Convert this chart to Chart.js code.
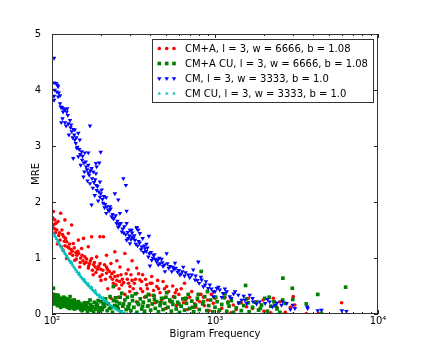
<!DOCTYPE html>
<html>
<head>
<meta charset="utf-8">
<script src="https://cdn.jsdelivr.net/npm/chart.js@4/dist/chart.umd.min.js"></script>
<style>
html,body{margin:0;padding:0;background:#fff;}
canvas{display:block;}
</style>
</head>
<body>
<canvas id="c" width="421" height="350"></canvas>
<script>
// ---- Data (bigram frequency, MRE) ----
const seriesLabels = [
  'CM+A, l = 3, w = 6666, b = 1.08',
  'CM+A CU, l = 3, w = 6666, b = 1.08',
  'CM, l = 3, w = 3333, b = 1.0',
  'CM CU, l = 3, w = 3333, b = 1.0'
];
const xTickValues = [100, 1000, 10000];
const xTickLabels = ['10\u00B2', '10\u00B3', '10\u2074'];
const xMinorTicks = [200,300,400,500,600,700,800,900,2000,3000,4000,5000,6000,7000,8000,9000];
const yTickValues = [0, 1, 2, 3, 4, 5];
const yTickLabels = ['0', '1', '2', '3', '4', '5'];

const cmA = [
 [102,1.83],[113,1.80],[104,1.68],[109,1.65],[120,1.68],[101,1.72],[103,1.60],[107,1.50],[115,1.50],[126,1.44],
 [132,1.59],[105,1.45],[112,1.32],[110,1.40],[118,1.38],[123,1.29],[135,1.26],[145,1.32],[156,1.35],[175,1.38],
 [197,1.38],[207,1.38],[117,1.14],[129,1.08],[142,1.05],[152,1.17],[167,1.20],[123,0.99],[138,0.96],[159,1.02],
 [175,0.99],[188,1.02],[216,1.05],[243,1.11],[280,1.08],[148,0.84],[167,0.82],[184,0.84],[197,0.90],[216,0.84],
 [179,0.70],[197,0.67],[216,0.73],[243,0.67],[261,0.84],[293,0.79],[331,0.82],[409,0.67],[346,0.61],[238,0.55],
 [268,0.52],[301,0.49],[381,0.52],[439,0.49],[505,0.49],[581,0.43],[331,0.37],[399,0.34],[482,0.28],[555,0.31],
 [670,0.28],[807,0.22],[977,0.19],[1295,0.16],[1564,0.13],[1974,0.25],[2281,0.28],[3020,0.31],[3090,0.16],[5980,0.20],
 [3630,0.01],[108,1.25],[114,1.20],[120,1.22],[127,1.18],[133,1.12],[140,1.10],[146,1.08],[150,1.00],[155,0.95],
 [162,0.92],[170,0.90],[180,0.88],[190,0.80],[205,0.78],[225,0.76],[235,0.62],[250,0.60],[260,0.58],[275,0.56],
 [290,0.62],[310,0.60],[320,0.55],[350,0.45],[360,0.40],[300,0.40],[280,0.35],[255,0.30],[230,0.28],[370,0.30],
 [420,0.42],[460,0.38],[520,0.40],[600,0.35],[640,0.20],[700,0.30],[750,0.18],[860,0.15],[900,0.25],[1100,0.10],
 [1200,0.22],[1350,0.08],[1450,0.20],[1700,0.10],[2000,0.05],[2400,0.12],[2700,0.03],[650,0.55],[550,0.50],[480,0.58],
 [760,0.12],[430,0.20],[390,0.15],[330,0.22],[500,0.10],[580,0.15],[680,0.08],[920,0.06],[1050,0.04],[1250,0.02],
 [820,0.35],[1000,0.28],[400,0.55],[450,0.45],[360,0.70],[310,0.95],[250,0.95],[230,0.90],[200,0.60],[220,0.45],
 [265,0.70],[2200,0.02],[4300,0.01],[2500,0.22],[2900,0.12],
 [101,1.55],[104,1.52],[106,1.62],[111,1.45],[116,1.42],[119,1.30],[121,1.35],[124,1.20],[128,1.25],[131,1.15],
 [134,1.05],[137,1.18],[141,0.98],[144,1.12],[149,0.92],[153,1.05],[158,0.90],[163,0.98],[168,0.86],[172,0.95],
 [177,0.78],[182,0.92],[186,0.74],[193,0.85],[199,0.80],[203,0.70],[210,0.88],[213,0.62],[219,0.80],[228,0.66],
 [233,0.72],[240,0.75],[247,0.52],[253,0.68],[258,0.45],[270,0.62],[285,0.72],[295,0.55],[305,0.70],[315,0.45],
 [325,0.62],[340,0.72],[355,0.58],[375,0.62],[385,0.45],[410,0.55],[425,0.32],[445,0.60],[470,0.25],[490,0.45],
 [530,0.22],[570,0.38],[620,0.45],[660,0.25],[720,0.40],[780,0.25],[850,0.30],[950,0.35],[1150,0.30],[1600,0.28],
 [1800,0.22]
];

const cmACU = [
 [102,0.46],[101,0.31],[107,0.34],[104,0.25],[112,0.28],[117,0.22],[129,0.31],[135,0.22],[123,0.16],[148,0.19],
 [156,0.13],[171,0.25],[188,0.13],[206,0.19],[238,0.49],[227,0.31],[249,0.22],[268,0.37],[280,0.25],[293,0.13],
 [100,0.28],[103,0.22],[105,0.30],[106,0.20],[108,0.26],[110,0.18],[110,0.30],[113,0.22],[114,0.15],[115,0.27],
 [118,0.14],[119,0.25],[120,0.19],[121,0.28],[124,0.12],[125,0.22],[127,0.18],[128,0.10],[130,0.16],[131,0.24],
 [133,0.13],[136,0.18],[138,0.09],[140,0.14],[142,0.21],[144,0.11],[146,0.15],[150,0.08],[152,0.17],[154,0.12],
 [158,0.20],[160,0.09],[163,0.14],[165,0.05],[168,0.11],[173,0.17],[175,0.07],[178,0.13],[182,0.21],[185,0.09],
 [190,0.16],[193,0.05],[196,0.11],[200,0.22],[203,0.08],[210,0.14],[213,0.27],[218,0.06],[222,0.18],[230,0.11],
 [235,0.03],[242,0.15],[245,0.29],[255,0.09],[260,0.19],[265,0.04],[272,0.14],[285,0.08],[290,0.30],[298,0.18],
 [305,0.06],[312,0.24],[318,0.12],[325,0.36],[332,0.03],[340,0.17],[348,0.27],[355,0.09],[363,0.21],[370,0.05],
 [378,0.31],[386,0.14],[395,0.24],[403,0.07],[412,0.18],[420,0.33],[430,0.10],[440,0.22],[450,0.04],[460,0.15],
 [470,0.28],[480,0.08],[492,0.19],[505,0.38],[515,0.12],[528,0.25],[540,0.05],[552,0.17],[565,0.30],[578,0.09],
 [590,0.21],[605,0.03],[620,0.14],[635,0.27],[650,0.07],[668,0.19],[685,0.35],[700,0.10],[720,0.23],[740,0.04],
 [760,0.16],[780,0.28],[800,0.08],[823,0.76],[840,0.18],[865,0.31],[890,0.06],[915,0.15],[940,0.25],[970,0.04],
 [1000,0.12],[1030,0.22],[1065,0.07],[1100,0.17],[1140,0.29],[1180,0.05],[1220,0.14],[1260,0.24],[1300,0.03],[1350,0.11],
 [1400,0.20],[1450,0.06],[1540,0.51],[1500,0.15],[1560,0.27],[1620,0.04],[1700,0.12],[1780,0.21],[1850,0.07],[1930,0.16],
 [2020,0.28],[2100,0.05],[2200,0.14],[2300,0.22],[2400,0.09],[2500,0.03],[2610,0.64],[2700,0.19],[2980,0.46],[3000,0.26],
 [3630,0.18],[4270,0.35],[4500,0.01],[6330,0.48],[2600,0.25],[1150,0.36],[900,0.40],
 [101,0.22],[102,0.35],[104,0.18],[106,0.27],[108,0.15],[109,0.33],[111,0.24],[113,0.12],[116,0.20],[118,0.30],
 [122,0.23],[126,0.26],[129,0.14],[132,0.20],[135,0.10],[137,0.25],[141,0.17],[145,0.22],[149,0.12],[153,0.06],
 [157,0.15],[161,0.18],[166,0.20],[170,0.08],[176,0.12],[180,0.04],[187,0.18],[192,0.24],[198,0.06],[205,0.12],
 [215,0.20],[225,0.10],[238,0.24],[252,0.14],[262,0.30],[275,0.18],[295,0.10],[310,0.32],[335,0.20],[360,0.14],
 [390,0.35],[425,0.26],[465,0.20],[500,0.30],[545,0.22],[600,0.18],[660,0.28],[730,0.12],[790,0.35],[850,0.22],
 [1010,0.30],[1200,0.20],[1600,0.20],[1900,0.10],[2150,0.30],[2350,0.15]
];

const cm = [
 [103,4.57],[103,4.13],[106,4.12],[108,4.09],[109,4.06],[104,4.00],[107,3.97],[103,3.89],[109,3.88],[103,3.82],
 [112,3.76],[115,3.69],[117,3.67],[120,3.65],[124,3.67],[117,3.61],[123,3.61],[116,3.49],[114,3.42],[120,3.42],
 [129,3.46],[122,3.36],[171,3.36],[130,3.33],[135,3.30],[138,3.29],[132,3.26],[145,3.23],[127,3.20],[134,3.15],
 [148,3.11],[138,3.11],[142,2.96],[147,2.94],[152,2.90],[159,2.88],[167,2.88],[199,2.89],[135,2.78],[145,2.81],
 [154,2.82],[150,2.66],[162,2.63],[167,2.66],[175,2.60],[186,2.69],[195,2.70],[158,2.54],[167,2.52],[179,2.54],
 [186,2.51],[156,2.45],[171,2.33],[165,2.38],[188,2.21],[178,2.25],[197,2.09],[183,2.12],[206,1.98],[192,2.02],
 [221,1.86],[210,1.90],[232,1.74],[215,1.80],[249,1.62],[238,1.70],[268,1.47],[255,1.55],[287,1.32],[301,1.26],
 [274,2.42],[284,2.30],[188,2.63],[197,2.36],[215,2.08],[175,1.95],[227,1.92],[255,2.04],[243,2.15],[261,1.80],
 [287,1.62],[308,1.50],[331,1.53],[346,1.44],[287,1.84],[331,1.55],[338,1.50],[301,1.50],[308,1.38],[293,1.35],
 [323,1.32],[393,1.39],[355,1.20],[372,1.17],[390,1.02],[409,0.96],[439,0.93],[505,1.08],[470,0.98],[399,0.86],
 [449,0.88],[493,0.76],[543,0.76],[568,0.91],[639,0.84],[609,0.70],[686,0.70],[735,0.79],[755,0.61],[828,0.61],
 [848,0.49],[908,0.46],[1000,0.40],[260,1.60],[275,1.45],[310,1.45],[320,1.40],[340,1.30],[360,1.35],[380,1.25],
 [365,1.10],[420,1.05],[430,0.98],[460,0.90],[480,0.85],[520,0.82],[560,0.80],[590,0.75],[620,0.72],[650,0.68],
 [700,0.65],[780,0.60],[800,0.55],[870,0.52],[950,0.45],[790,0.93],[977,0.40],[1026,0.46],[1070,0.43],[1120,0.37],
 [1179,0.40],[1328,0.40],[1389,0.34],[1455,0.25],[1523,0.25],[1634,0.34],[1713,0.22],[1881,0.22],[2030,0.19],[2166,0.22],
 [2338,0.16],[2556,0.16],[2753,0.19],[2995,0.16],[977,0.31],[1233,0.31],[1564,0.19],[1100,0.30],[1260,0.28],[1400,0.20],
 [1800,0.18],[2250,0.13],[2400,0.20],[3090,0.10],[3680,0.13],[4270,0.06],[4500,0.07],[6000,0.06],[6400,0.05],[2900,0.08],
 [3700,0.10],
 [140,3.05],[143,2.98],[149,2.85],[153,2.75],[157,2.70],[161,2.72],[164,2.58],[169,2.48],[172,2.56],[176,2.42],
 [181,2.35],[184,2.40],[187,2.30],[190,2.28],[194,2.18],[199,2.15],[202,2.22],[204,2.05],[208,2.10],[212,1.96],
 [218,1.92],[224,1.84],[229,1.88],[235,1.78],[241,1.72],[246,1.76],[252,1.66],[258,1.58],[264,1.62],[271,1.52],
 [278,1.56],[283,1.42],[292,1.46],[298,1.40],[305,1.33],[315,1.35],[327,1.25],[335,1.22],[345,1.27],[352,1.15],
 [368,1.22],[378,1.12],[385,1.18],[395,1.08],[405,1.10],[415,1.00],[425,1.06],[445,0.97],[455,1.00],[475,0.92],
 [490,0.88],[510,0.90],[530,0.85],[550,0.84],[575,0.82],[600,0.78],[630,0.76],[660,0.74],[720,0.70],[760,0.68],
 [820,0.66],[880,0.58],[930,0.52],[1050,0.48],[1150,0.45],[1300,0.36],[1500,0.32],[1700,0.28],[2100,0.26],[2600,0.22],
 [126,3.40],[131,3.38],[137,3.20],[141,3.15],[125,3.55],[112,3.90],[110,3.95],[113,3.70]
];

const cmCU = [
 [100,1.48],[101,1.46],[102,1.44],[103,1.42],[104,1.39],[105,1.38],[106,1.35],[107,1.34],[108,1.31],[109,1.30],
 [110,1.27],[111,1.25],[112,1.23],[113,1.22],[114,1.19],[115,1.18],[116,1.15],[117,1.14],[118,1.12],[119,1.10],
 [120,1.08],[121,1.07],[122,1.05],[123,1.04],[124,1.02],[125,1.00],[126,0.98],[127,0.97],[128,0.95],[129,0.94],
 [130,0.92],[131,0.91],[133,0.88],[134,0.87],[136,0.84],[137,0.83],[139,0.80],[140,0.79],[142,0.76],[143,0.75],
 [145,0.72],[146,0.71],[148,0.69],[150,0.67],[151,0.66],[153,0.64],[154,0.63],[156,0.61],[157,0.60],[159,0.58],
 [160,0.57],[162,0.56],[163,0.55],[165,0.53],[166,0.52],[168,0.50],[170,0.49],[172,0.47],[174,0.46],[176,0.44],
 [178,0.43],[180,0.41],[182,0.40],[184,0.38],[186,0.37],[188,0.36],[190,0.34],[193,0.33],[195,0.31],[198,0.30],
 [200,0.30],[203,0.28],[205,0.27],[208,0.26],[210,0.25],[213,0.23],[215,0.22],[218,0.21],[220,0.20],[225,0.17],
 [230,0.15],[235,0.13],[240,0.11],[245,0.09],[250,0.08],[255,0.06],[260,0.05],[265,0.04],[270,0.03],[275,0.02],
 [280,0.02],[290,0.01],[300,0.0],[320,0.0],[340,0.0],[360,0.0],[380,0.0],[400,0.0],[430,0.0],[460,0.0],
 [500,0.0],[540,0.0],[580,0.0],[620,0.0],[670,0.0],[720,0.0],[780,0.0],[840,0.0],[900,0.0],[970,0.0],
 [1050,0.0],[1130,0.0],[1220,0.0],[1320,0.0],[1420,0.0],[1530,0.0],[1650,0.0],[1780,0.0],[1920,0.0],[2070,0.0],
 [2230,0.0],[2400,0.0],[2600,0.0],[3000,0.0],[3600,0.0],[4500,0.0],[6000,0.0],
 [132,0.93],[147,0.73],[158,0.62],[167,0.54],[175,0.48],[185,0.42],[196,0.34],[206,0.29]
];

const seriesColors = ['#ff0000', '#008000', '#0000ff', '#00bfbf'];
const seriesStyles = ['circle', 'rect', 'triangle', 'triangle'];
const seriesRadius = [1.8, 2.6, 2.6, 2.0];
const seriesRotation = [0, 0, 180, 0];
const seriesData = [cmA, cmACU, cm, cmCU];

const FONT = "'DejaVu Sans', 'Liberation Sans', sans-serif";

const datasets = seriesData.map((d, i) => ({
  label: seriesLabels[i],
  data: d.map(p => ({x: p[0], y: p[1]})),
  pointStyle: seriesStyles[i],
  pointRadius: seriesRadius[i],
  pointRotation: seriesRotation[i],
  backgroundColor: seriesColors[i],
  borderColor: seriesColors[i],
  pointBorderWidth: 0,
  order: 3 - i,
  showLine: false
}));

function drawMarker(ctx, style, radius, rotation, color, x, y) {
  ctx.fillStyle = color;
  ctx.beginPath();
  if (style === 'circle') {
    ctx.arc(x, y, radius, 0, Math.PI * 2);
  } else if (style === 'rect') {
    const s = radius * Math.SQRT1_2;
    ctx.rect(x - s, y - s, 2 * s, 2 * s);
  } else {
    const dir = rotation === 180 ? -1 : 1;
    const r = radius;
    ctx.moveTo(x, y - dir * r);
    ctx.lineTo(x - r * 0.866, y + dir * r * 0.5);
    ctx.lineTo(x + r * 0.866, y + dir * r * 0.5);
    ctx.closePath();
  }
  ctx.fill();
}

const framePlugin = {
  id: 'frameAndLegend',
  afterDatasetsDraw(chart) {
    const {ctx, chartArea: a, scales: {x, y}} = chart;
    ctx.save();
    ctx.strokeStyle = '#222';
    ctx.lineWidth = 1;
    ctx.beginPath();
    yTickValues.forEach(v => {
      const py = Math.round(y.getPixelForValue(v)) + 0.5;
      ctx.moveTo(a.left, py); ctx.lineTo(a.left + 4, py);
      ctx.moveTo(a.right, py); ctx.lineTo(a.right - 4, py);
    });
    xTickValues.forEach(v => {
      const px = Math.round(x.getPixelForValue(v)) + 0.5;
      ctx.moveTo(px, a.bottom); ctx.lineTo(px, a.bottom - 4);
      ctx.moveTo(px, a.top); ctx.lineTo(px, a.top + 4);
    });
    xMinorTicks.forEach(v => {
      const px = Math.round(x.getPixelForValue(v)) + 0.5;
      ctx.moveTo(px, a.bottom); ctx.lineTo(px, a.bottom - 2);
      ctx.moveTo(px, a.top); ctx.lineTo(px, a.top + 2);
    });
    ctx.stroke();
    ctx.strokeStyle = '#333';
    ctx.strokeRect(a.left + 0.5, a.top + 0.5, a.right - a.left - 1, a.bottom - a.top - 1);

    // legend box (inside the axes, upper right)
    const lx = 152.5, ly = 39.5, lw = 221, lh = 63;
    ctx.fillStyle = '#ffffff';
    ctx.fillRect(lx, ly, lw, lh);
    ctx.strokeStyle = '#333';
    ctx.strokeRect(lx, ly, lw, lh);
    ctx.font = '10px ' + FONT;
    ctx.textBaseline = 'middle';
    ctx.textAlign = 'left';
    seriesLabels.forEach((lab, i) => {
      const ry = 48.5 + i * 15;
      [159.3, 166.7, 174].forEach(mx => drawMarker(ctx, seriesStyles[i], seriesRadius[i], seriesRotation[i], seriesColors[i], mx, ry));
      ctx.fillStyle = '#000';
      ctx.fillText(lab, 185, ry + 0.5);
    });
    ctx.restore();
  }
};

new Chart(document.getElementById('c'), {
  type: 'scatter',
  data: {datasets},
  options: {
    responsive: false,
    animation: false,
    events: [],
    layout: {padding: {left: 0, right: 43, top: 34, bottom: 0}},
    plugins: {legend: {display: false}, tooltip: {enabled: false}},
    scales: {
      x: {
        type: 'logarithmic',
        min: 100, max: 10000,
        grid: {display: false},
        border: {display: false},
        afterBuildTicks: s => { s.ticks = xTickValues.map(v => ({value: v})); },
        afterFit: s => { s.height = 36; },
        ticks: {
          autoSkip: false, maxRotation: 0, padding: -7,
          color: '#000', font: {family: FONT, size: 10},
          callback: v => { const i = xTickValues.indexOf(v); return i >= 0 ? xTickLabels[i] : ''; }
        },
        title: {display: true, text: 'Bigram Frequency', color: '#000', font: {family: FONT, size: 10}, padding: {top: 0, bottom: 10}}
      },
      y: {
        min: 0, max: 5,
        grid: {display: false},
        border: {display: false},
        afterBuildTicks: s => { s.ticks = yTickValues.map(v => ({value: v})); },
        afterFit: s => { s.width = 52; },
        ticks: {
          padding: 3,
          color: '#000', font: {family: FONT, size: 10},
          callback: v => { const i = yTickValues.indexOf(v); return i >= 0 ? yTickLabels[i] : ''; }
        },
        title: {display: true, text: 'MRE', color: '#000', font: {family: FONT, size: 10}, padding: {top: 30, bottom: 0}}
      }
    }
  },
  plugins: [framePlugin]
});
</script>
</body>
</html>
